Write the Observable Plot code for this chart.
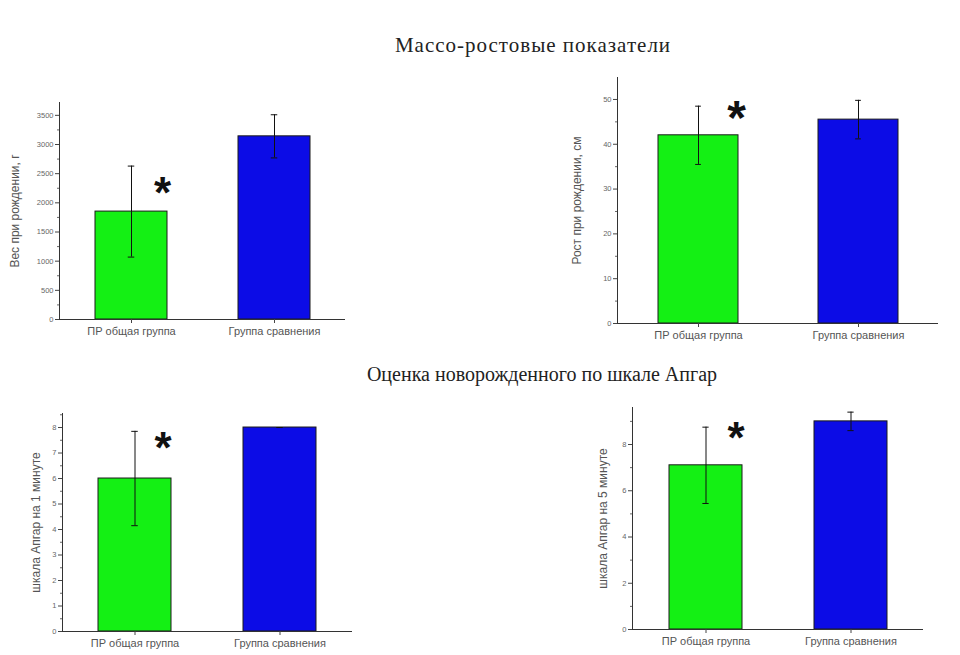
<!DOCTYPE html>
<html>
<head>
<meta charset="utf-8">
<script src="https://cdn.jsdelivr.net/npm/d3@7"></script>
<script src="https://cdn.jsdelivr.net/npm/@observablehq/plot@0.6"></script>
<style>
  html, body { margin: 0; padding: 0; background: #fff; }
  #root { position: relative; width: 960px; height: 655px; overflow: hidden; background: #fff; }
  #root svg { position: absolute; background: transparent; overflow: visible; }
  .title { position: absolute; font-family: "Liberation Serif", "DejaVu Serif", serif; color: #222; white-space: nowrap; transform: translate(-50%, -50%); }
</style>
</head>
<body>
<div id="root"></div>
<script>
// ---- data ----
const groups = ["ПР общая группа", "Группа сравнения"];
const significant = [true, false];
const colors = ["#14f014", "#0c0ce6"];

const weightMean = [1850, 3140];
const weightSd = [780, 370];
const weightTicks = [0, 500, 1000, 1500, 2000, 2500, 3000, 3500];

const heightMean = [42, 45.5];
const heightSd = [6.5, 4.3];
const heightTicks = [0, 10, 20, 30, 40, 50];

const apgar1Mean = [6, 8];
const apgar1Sd = [1.85, 0];
const apgar1Ticks = [0, 1, 2, 3, 4, 5, 6, 7, 8];

const apgar5Mean = [7.1, 9];
const apgar5Sd = [1.65, 0.4];
const apgar5Ticks = [0, 2, 4, 6, 8];

const titles = ["Массо-ростовые показатели", "Оценка новорожденного по шкале Апгар"];
const yLabels = ["Вес при рождении, г", "Рост при рождении, см", "шкала Апгар на 1 минуте", "шкала Апгар на 5 минуте"];

const root = document.getElementById("root");

function table(means, sds) {
  return groups.map((g, i) => ({group: g, mean: means[i], sd: sds[i], sig: significant[i], color: colors[i]}));
}

function panel(opts) {
  const data = table(opts.means, opts.sds);
  const step = opts.ticks[1] - opts.ticks[0];
  const minor = d3.range(step / 2, opts.yMax, step).filter(v => !opts.ticks.includes(v));
  const bw = (opts.width - opts.ml - opts.mr) / 4; // band width for caps
  const capInset = bw / 2 - 3;
  const svg = Plot.plot({
    width: opts.width,
    height: opts.height,
    marginLeft: opts.ml,
    marginRight: opts.mr,
    marginTop: opts.mt,
    marginBottom: opts.mb,
    style: {fontFamily: "'Liberation Sans', Arial, sans-serif", background: "transparent", color: "#333"},
    x: {domain: groups, paddingInner: 0.5, paddingOuter: 0.25},
    y: {domain: [0, opts.yMax]},
    marks: [
      Plot.barY(data, {x: "group", y: "mean", fill: "color", stroke: "#1a1a1a", strokeWidth: 1}),
      Plot.ruleX(data, {x: "group", y1: d => d.mean - d.sd, y2: d => d.mean + d.sd, stroke: "#111", strokeWidth: 1}),
      Plot.tickY(data, {x: "group", y: d => d.mean + d.sd, stroke: "#111", strokeWidth: 1, insetLeft: capInset, insetRight: capInset}),
      Plot.tickY(data.filter(d => d.sd > 0), {x: "group", y: d => d.mean - d.sd, stroke: "#111", strokeWidth: 1, insetLeft: capInset, insetRight: capInset}),
      Plot.text(data.filter(d => d.sig), {x: "group", y: "mean", text: () => "*", dx: opts.starDx, dy: opts.starDy, fontSize: opts.starSize, fontWeight: "bold", fill: "#111", lineAnchor: "middle"}),
      Plot.frame({anchor: "left", stroke: "#333", strokeWidth: 1}),
      Plot.ruleY([0], {stroke: "#333", strokeWidth: 1.2}),
      Plot.axisY({ticks: opts.ticks, tickFormat: d => String(d), tickSize: 4, tickPadding: 2, fontSize: 7.5, fill: "#666", stroke: "#444",
        label: opts.label, labelAnchor: "center", labelOffset: opts.labelOffset, labelArrow: "none"}),
      Plot.axisY({ticks: minor, tickFormat: null, text: null, tickSize: 2, stroke: "#666", label: null}),
      Plot.axisX({tickSize: 4, tickPadding: 4, fontSize: 11, fill: "#555", stroke: "#444", label: null})
    ]
  });
  svg.style.left = opts.left + "px";
  svg.style.top = opts.top + "px";
  svg.querySelectorAll("[aria-label='y-axis label'] text, [aria-label='y-axis label']").forEach(t => {
    t.setAttribute("font-size", 12);
    t.setAttribute("fill", "#555");
  });
  root.appendChild(svg);
}

panel({means: weightMean, sds: weightSd, ticks: weightTicks, yMax: 3720, label: yLabels[0],
  left: 0, top: 90, width: 360, height: 260, ml: 59, mr: 15, mt: 12, mb: 31, labelOffset: 49,
  starDx: 31, starDy: -18, starSize: 44});
panel({means: heightMean, sds: heightSd, ticks: heightTicks, yMax: 54.9, label: yLabels[1],
  left: 560, top: 65, width: 400, height: 290, ml: 57, mr: 22, mt: 12, mb: 32, labelOffset: 45,
  starDx: 38, starDy: -17, starSize: 48});
panel({means: apgar1Mean, sds: apgar1Sd, ticks: apgar1Ticks, yMax: 8.55, label: yLabels[2],
  left: 0, top: 400, width: 370, height: 255, ml: 62, mr: 18, mt: 13, mb: 24, labelOffset: 31,
  starDx: 28, starDy: -30, starSize: 44});
panel({means: apgar5Mean, sds: apgar5Sd, ticks: apgar5Ticks, yMax: 9.6, label: yLabels[3],
  left: 575, top: 395, width: 385, height: 260, ml: 57, mr: 37, mt: 12, mb: 26, labelOffset: 34,
  starDx: 30, starDy: -26, starSize: 44});

[[titles[0], 533, 45, 21, 1], [titles[1], 542, 374, 20, 0]].forEach(([t, x, y, size, ls]) => {
  const d = document.createElement("div");
  d.className = "title";
  d.textContent = t;
  d.style.left = x + "px";
  d.style.top = y + "px";
  d.style.fontSize = size + "px";
  d.style.letterSpacing = ls + "px";
  root.appendChild(d);
});
</script>
</body>
</html>
